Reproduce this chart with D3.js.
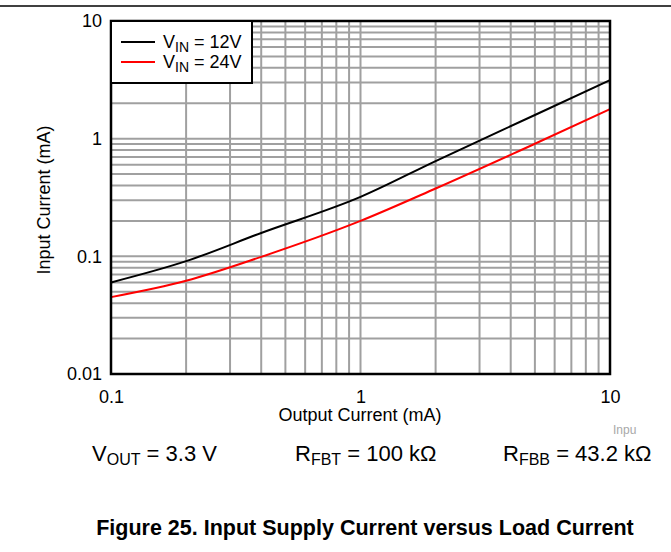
<!DOCTYPE html>
<html><head><meta charset="utf-8">
<script src="https://cdn.jsdelivr.net/npm/d3@7"></script>
<style>body{margin:0;background:#fff}svg{display:block;font-family:"Liberation Sans",Arial,sans-serif}</style>
</head><body>
<svg id="c" width="671" height="552"></svg>
<script>
const loadCurrent = [0.1, 0.2, 0.4, 1, 2, 5, 10];
const vin12 = [0.060, 0.091, 0.158, 0.32, 0.645, 1.59, 3.15];
const vin24 = [0.045, 0.062, 0.099, 0.20, 0.377, 0.905, 1.78];
const xTickLabels = ["0.1", "1", "10"];
const yTickLabels = ["0.01", "0.1", "1", "10"];

const svg = d3.select("#c");
const L = 111, R = 610, T = 21, B = 374;
const x = d3.scaleLog().domain([0.1, 10]).range([L, R]);
const y = d3.scaleLog().domain([0.01, 10]).range([B, T]);

svg.append("line").attr("x1", 0).attr("x2", 671).attr("y1", 6).attr("y2", 6)
  .attr("stroke", "#000").attr("stroke-width", 1.5);

// grid
const xGrid = [], yGrid = [];
[0.1, 1].forEach(d => { for (let k = 1; k <= 9; k++) xGrid.push(d * k); });
[0.01, 0.1, 1].forEach(d => { for (let k = 1; k <= 9; k++) yGrid.push(d * k); });
const g = svg.append("g");
g.selectAll(".vx").data(xGrid.slice(1)).join("line")
  .attr("x1", d => x(d)).attr("x2", d => x(d)).attr("y1", T).attr("y2", B)
  .attr("stroke", "#a0a0a0").attr("stroke-width", 2);
g.selectAll(".hy").data(yGrid.slice(1)).join("line")
  .attr("y1", d => y(d)).attr("y2", d => y(d)).attr("x1", L).attr("x2", R)
  .attr("stroke", "#a0a0a0").attr("stroke-width", 2);

// curves
const line = d3.line().x(d => x(d[0])).y(d => y(d[1])).curve(d3.curveMonotoneX);
svg.append("path").datum(loadCurrent.map((d, i) => [d, vin12[i]])).attr("d", line)
  .attr("fill", "none").attr("stroke", "#000").attr("stroke-width", 2);
svg.append("path").datum(loadCurrent.map((d, i) => [d, vin24[i]])).attr("d", line)
  .attr("fill", "none").attr("stroke", "#ff0000").attr("stroke-width", 2);

// frame
svg.append("rect").attr("x", L).attr("y", T).attr("width", R - L).attr("height", B - T)
  .attr("fill", "none").attr("stroke", "#000").attr("stroke-width", 2.5);

// axes labels
const xa = svg.append("g").attr("transform", `translate(0,${B + 13})`)
  .call(d3.axisBottom(x).tickValues([0.1, 1, 10]).tickFormat((d, i) => xTickLabels[i]).tickSize(0));
xa.select(".domain").remove();
xa.attr("font-size", 18).attr("font-family", "Liberation Sans, Arial");
xa.selectAll("text").attr("fill", "#000");
const ya = svg.append("g").attr("transform", `translate(${L - 6},0)`)
  .call(d3.axisLeft(y).tickValues([0.01, 0.1, 1, 10]).tickFormat((d, i) => yTickLabels[i]).tickSize(0));
ya.select(".domain").remove();
ya.attr("font-size", 18).attr("font-family", "Liberation Sans, Arial");
ya.selectAll("text").attr("fill", "#000");

svg.append("text").attr("x", 360).attr("y", 421).attr("text-anchor", "middle")
  .attr("font-size", 18).text("Output Current (mA)");
svg.append("text").attr("transform", "translate(50,200) rotate(-90)").attr("text-anchor", "middle")
  .attr("font-size", 18).text("Input Current (mA)");

// legend
svg.append("rect").attr("x", L).attr("y", T).attr("width", 141).attr("height", 62)
  .attr("fill", "#fff").attr("stroke", "#000").attr("stroke-width", 2);
const leg = [["12V", "#000", 42], ["24V", "#ff0000", 62]];
leg.forEach(([v, c, ly]) => {
  svg.append("line").attr("x1", 121).attr("x2", 155).attr("y1", ly).attr("y2", ly)
    .attr("stroke", c).attr("stroke-width", 2);
  const t = svg.append("text").attr("x", 163).attr("y", ly + 6).attr("font-size", 18);
  t.append("tspan").text("V");
  t.append("tspan").attr("font-size", 14).attr("dy", 4).text("IN");
  t.append("tspan").attr("dy", -4).text(" = " + v);
});

svg.append("text").attr("x", 613).attr("y", 434)
  .attr("font-size", 12).attr("fill", "#a8a8a8").text("Inpu");

// conditions
function sub(xp, main, s, rest) {
  const t = svg.append("text").attr("x", xp).attr("y", 461).attr("font-size", 22);
  t.append("tspan").text(main);
  t.append("tspan").attr("font-size", 16).attr("dy", 4).text(s);
  t.append("tspan").attr("dy", -4).text(rest);
}
sub(92, "V", "OUT", " = 3.3 V");
sub(295, "R", "FBT", " = 100 kΩ");
sub(503, "R", "FBB", " = 43.2 kΩ");

svg.append("text").attr("x", 365).attr("y", 535).attr("text-anchor", "middle")
  .attr("font-size", 21.5).attr("font-weight", "bold")
  .text("Figure 25. Input Supply Current versus Load Current");
</script>
</body></html>
